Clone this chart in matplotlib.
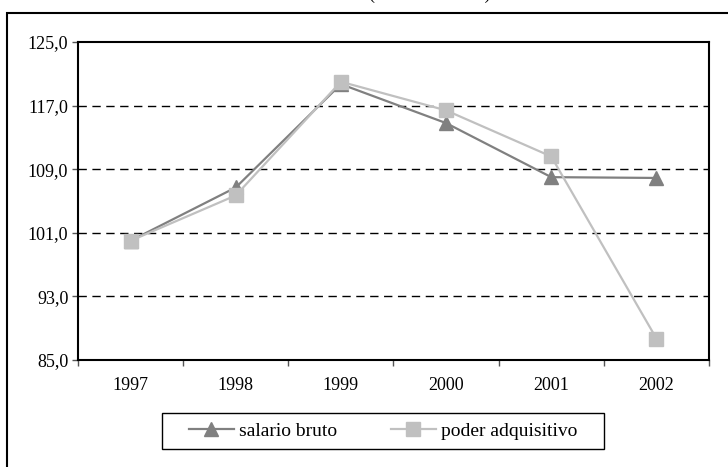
import matplotlib
matplotlib.use("Agg")
import matplotlib.pyplot as plt
from matplotlib.patches import Rectangle
from matplotlib.ticker import FuncFormatter

years = ["1997", "1998", "1999", "2000", "2001", "2002"]
salario_bruto = [100.0, 106.7, 119.7, 114.8, 108.0, 107.9]
poder_adquisitivo = [100.0, 105.7, 120.0, 116.4, 110.6, 87.7]
y_ticks = [85, 93, 101, 109, 117, 125]

plt.rcParams['font.family'] = ['Liberation Serif', 'DejaVu Serif']

fig = plt.figure(figsize=(7.28, 4.67), dpi=100)
ax = fig.add_axes([78 / 728, 1 - 360 / 467, (709 - 78) / 728, (360 - 42) / 467])

# outer frame (cut at right and bottom)
fig.patches.append(Rectangle((7 / 728, -0.05), 1.0, 1 - 13 / 467 + 0.05,
                             transform=fig.transFigure, fill=False,
                             edgecolor='black', linewidth=1.5))
# title, almost entirely cut off above the picture
fig.text(430 / 728, 1 + 1 / 467, "(base 1997=100)", ha='center', va='baseline',
         fontsize=13)

x = list(range(len(years)))
ax.plot(x, salario_bruto, color='#808080', linewidth=1.6, marker='^',
        markersize=10, label="salario bruto", zorder=3)
ax.plot(x, poder_adquisitivo, color='#c0c0c0', linewidth=1.6, marker='s',
        markersize=10, label="poder adquisitivo", zorder=4)

ax.set_xlim(-0.5, len(years) - 0.5)
ax.set_ylim(y_ticks[0], y_ticks[-1])
ax.set_yticks(y_ticks)
ax.yaxis.set_major_formatter(FuncFormatter(lambda v, p: f"{v:.1f}".replace('.', ',')))
for v in y_ticks[1:-1]:
    ax.axhline(v, color='black', linewidth=1.0, linestyle=(0, (6, 4)), zorder=1)

ax.set_xticks(x)
ax.set_xticklabels(years)
ax.set_xticks([i - 0.5 for i in range(len(years) + 1)], minor=True)
ax.tick_params(axis='x', which='major', length=0, pad=12, labelsize=13)
ax.tick_params(axis='x', which='minor', length=4, width=1, direction='out',
               color='#555555')
ax.tick_params(axis='y', length=4, width=1, color='#555555', labelsize=13, pad=3)

for s in ax.spines.values():
    s.set_linewidth(1.5)
    s.set_color('black')

leg = fig.legend(loc='center', bbox_to_anchor=(383 / 728, 1 - 431 / 467), ncol=2,
                 frameon=False, fontsize=14, handlelength=2.3,
                 columnspacing=2.8, borderpad=0.35, handletextpad=0.25)

# legend box with wider side padding, like the original
fig.canvas.draw()
bb = leg.get_window_extent()
pad_x, pad_y = 20, 2
fig.patches.append(Rectangle((bb.x0 - pad_x, bb.y0 - pad_y),
                             bb.width + 2 * pad_x, bb.height + 2 * pad_y,
                             transform=None, fill=False,
                             edgecolor='black', linewidth=1.0))

fig.savefig("out.png", dpi=100)
